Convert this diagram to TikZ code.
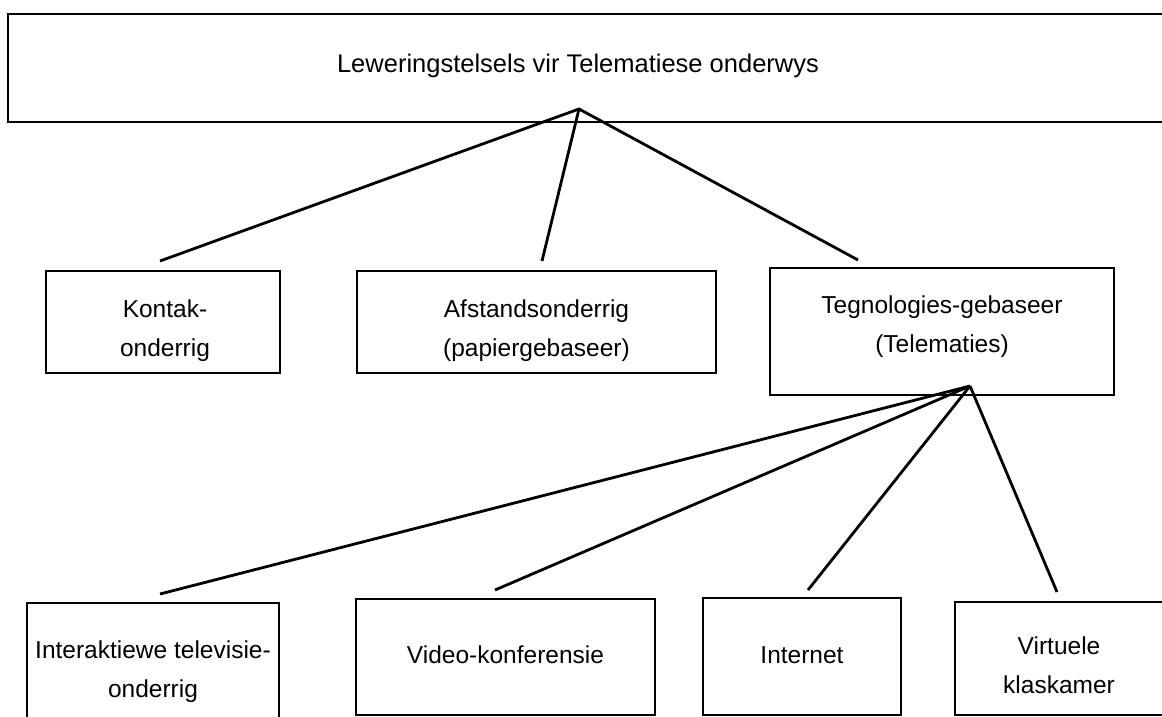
\documentclass[tikz,border=0pt]{standalone}
\usepackage{fontspec}
\setmainfont{Liberation Sans}
\begin{document}
\begin{tikzpicture}[x=1pt,y=-1pt,
  box/.style={draw, line width=2.6pt, rectangle, inner sep=0pt},
  txt/.style={inner sep=0pt, align=center, font=\fontsize{24.5}{39}\selectfont},
  link/.style={line width=2.8pt}]
\useasboundingbox (0,0) rectangle (1162,717);
\clip (0,0) rectangle (1162,717);

% top level (frame runs off the right edge)
\node[box, minimum width=1160pt, minimum height=108pt] (top) at (588,68) {};
\node[txt, font=\fontsize{25.5}{39}\selectfont] (top-t) at (578,66) {Leweringstelsels vir Telematiese onderwys};

% second level
\node[box, minimum width=234pt, minimum height=102pt] (kontak) at (163,322) {};
\node[box, minimum width=359pt, minimum height=102pt] (afstand) at (536.5,322) {};
\node[box, minimum width=344pt, minimum height=127pt] (tegno) at (942,331.5) {};
\node[txt] (kontak-t) at (165,331) {Kontak-\\onderrig};
\node[txt] (afstand-t) at (536.5,331) {Afstandsonderrig\\(papiergebaseer)};
\node[txt] (tegno-t) at (942,327) {Tegnologies-gebaseer\\(Telematies)};

% third level (frames run off the bottom edge)
\node[box, minimum width=252pt, minimum height=138pt] (itv) at (153,672) {};
\node[box, minimum width=299pt, minimum height=116pt] (video) at (505.5,657) {};
\node[box, minimum width=198pt, minimum height=117pt] (internet) at (802,656.5) {};
\node[box, minimum width=208pt, minimum height=113pt] (virtueel) at (1059,658.5) {};
\node[txt] (itv-t) at (153,672) {Interaktiewe televisie-\\onderrig};
\node[txt] (video-t) at (505.5,655) {Video-konferensie};
\node[txt] (internet-t) at (802,655) {Internet};
\node[txt] (virtueel-t) at (1059,665) {Virtuele\\klaskamer};

% branch points and loose line ends
\coordinate (hubA) at (579,109);
\coordinate (hubB) at (970,386);
\coordinate (kontak-in) at (160,261);
\coordinate (afstand-in) at (542,261);
\coordinate (tegno-in) at (858,260);
\coordinate (itv-in) at (160,594);
\coordinate (video-in) at (495,590);
\coordinate (internet-in) at (808,590);
\coordinate (virtueel-in) at (1057,592);

\draw[link, line join=miter] (kontak-in) -- (hubA) -- (tegno-in);
\draw[link] (hubA) -- (afstand-in);
\draw[link] (hubB) -- (itv-in);
\draw[link] (hubB) -- (video-in);
\draw[link] (hubB) -- (internet-in);
\draw[link] (hubB) -- (virtueel-in);
\end{tikzpicture}
\end{document}
